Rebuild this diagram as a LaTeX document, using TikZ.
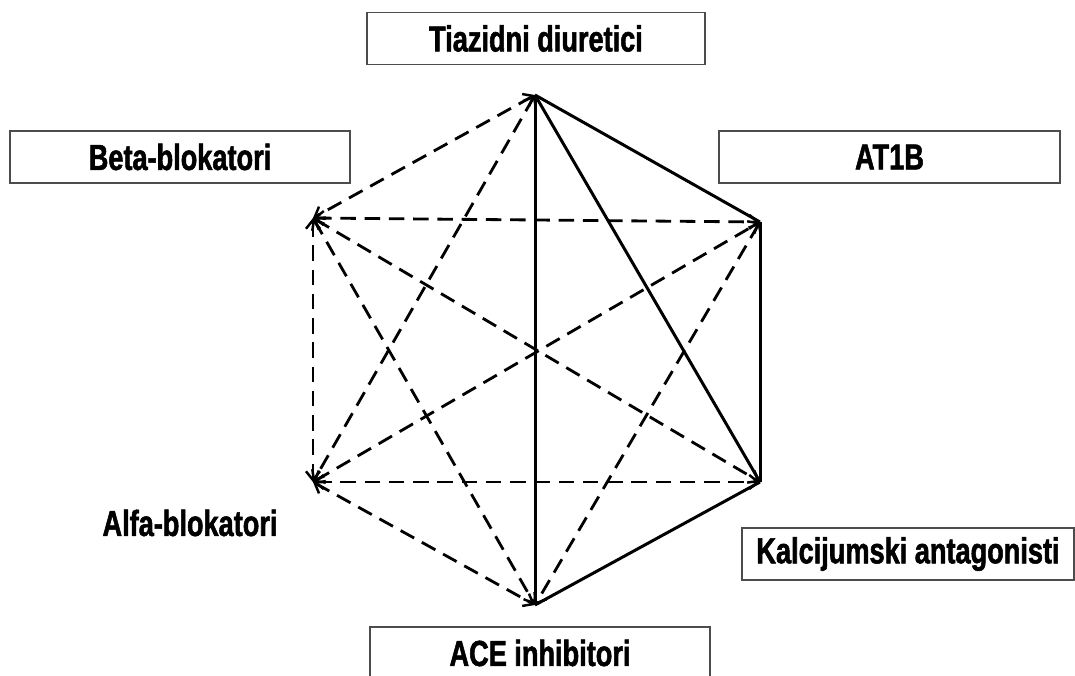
\documentclass[tikz,border=0pt]{standalone}
\usepackage{fontspec}
\setmainfont{Liberation Sans}[FakeStretch=0.82]
\newfontfamily\lblfont{Liberation Sans}[FakeStretch=0.75,BoldFeatures={FakeBold=1.5}]
\usetikzlibrary{arrows.meta}
\begin{document}
\begin{tikzpicture}[x=0.02cm,y=-0.02cm,
  lbl/.style={font=\lblfont\bfseries\fontsize{20.6}{24}\selectfont, inner sep=0pt},
  lblbox/.style={lbl, draw=black!70, line width=0.7pt, minimum height=1.04cm},
  solidedge/.style={line width=1.7pt},
  dashedge/.style={line width=1.6pt, dash pattern=on 8.8pt off 5pt,
     {Straight Barb[length=5pt,width=8pt,line width=1.4pt]}-{Straight Barb[length=5pt,width=8pt,line width=1.4pt]}}]
\useasboundingbox (0,0) rectangle (1075,676);
% vertices
\coordinate (T) at (535,95);
\coordinate (UR) at (760,222);
\coordinate (LR) at (760,482);
\coordinate (B) at (535,605);
\coordinate (LL) at (313,482);
\coordinate (UL) at (313,218);
% labels
\node[lblbox, minimum width=6.76cm] (tia) at (536,38.5) {Tiazidni diuretici};
\node[lblbox, minimum width=6.8cm] (beta) at (180,157) {Beta-blokatori};
\node[lblbox, minimum width=6.82cm] (at1b) at (889.5,157) {AT1B};
\node[lblbox, minimum width=6.64cm] (kal) at (908,554) {Kalcijumski antagonisti};
\node[lblbox, minimum width=6.8cm] (ace) at (540,653) {ACE inhibitori};
\node[lbl] (alfa) at (190,523) {Alfa-blokatori};
% solid edges
\draw[solidedge] (T) -- (UR);
\draw[solidedge] (T) -- (LR);
\draw[solidedge] (T) -- (B);
\draw[solidedge] (UR) -- (LR);
\draw[solidedge] (LR) -- (B);
% dashed edges
\draw[dashedge] (T) -- (UL);
\draw[dashedge] (T) -- (LL);
\draw[dashedge] (UL) -- (LL);
\draw[dashedge] (UL) -- (UR);
\draw[dashedge] (UL) -- (LR);
\draw[dashedge] (UL) -- (B);
\draw[dashedge] (LL) -- (UR);
\draw[dashedge] (LL) -- (LR);
\draw[dashedge] (LL) -- (B);
\draw[dashedge] (UR) -- (B);
\end{tikzpicture}
\end{document}
